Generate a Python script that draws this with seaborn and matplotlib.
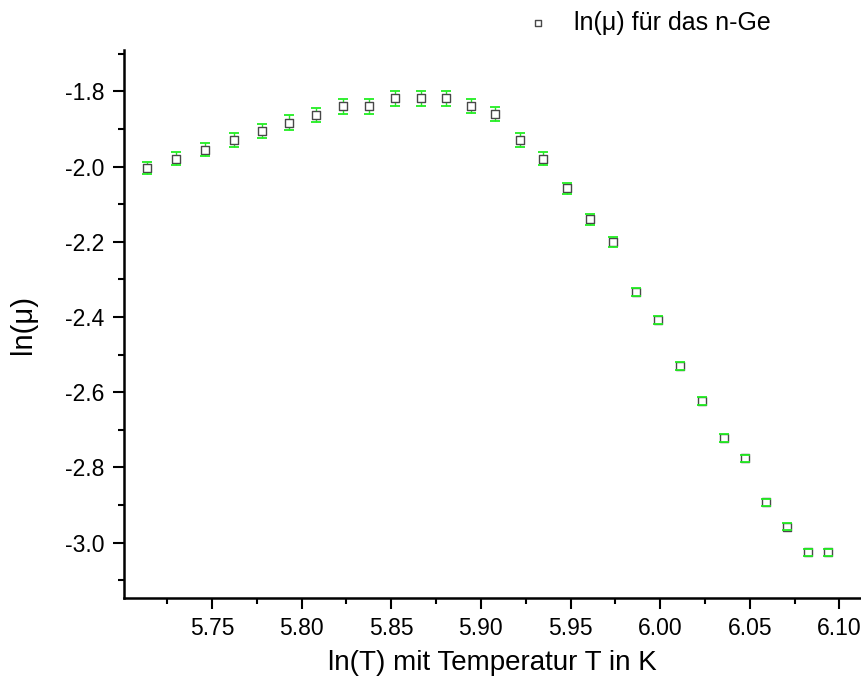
import matplotlib
matplotlib.use("Agg")
import matplotlib.pyplot as plt
import seaborn as sns
import numpy as np
import pandas as pd
from matplotlib.ticker import MultipleLocator

# Data
ln_T = [5.7137, 5.7301, 5.7462, 5.7621, 5.7777, 5.7930, 5.8081, 5.8230,
        5.8377, 5.8522, 5.8665, 5.8805, 5.8944, 5.9081, 5.9216, 5.9349,
        5.9480, 5.9610, 5.9738, 5.9865, 5.9989, 6.0113, 6.0234, 6.0355,
        6.0474, 6.0591, 6.0707, 6.0822, 6.0936]
ln_mu = [-2.004, -1.979, -1.955, -1.930, -1.906, -1.883, -1.862, -1.839,
         -1.839, -1.818, -1.818, -1.818, -1.839, -1.861, -1.930, -1.979,
         -2.058, -2.140, -2.201, -2.334, -2.408, -2.530, -2.623, -2.721,
         -2.776, -2.893, -2.957, -3.026, -3.026]
err = [0.017, 0.017, 0.018, 0.018, 0.019, 0.019, 0.019, 0.020, 0.020,
       0.020, 0.020, 0.020, 0.019, 0.019, 0.019, 0.018, 0.015, 0.014,
       0.014, 0.011, 0.011, 0.011, 0.010, 0.010, 0.010, 0.0085, 0.0085,
       0.0085, 0.0085]
xticks = [5.75, 5.80, 5.85, 5.90, 5.95, 6.00, 6.05, 6.10]
yticks = [-3.0, -2.8, -2.6, -2.4, -2.2, -2.0, -1.8]
legend_label = "ln(μ) für das n-Ge"
xlabel = "ln(T) mit Temperatur T in K"
ylabel = "ln(μ)"

df = pd.DataFrame({"x": ln_T, "y": ln_mu, "err": err})

sns.set_theme(style="ticks")
plt.rcParams["font.family"] = ["Liberation Sans", "DejaVu Sans"]
plt.rcParams["text.color"] = "black"
plt.rcParams["axes.labelcolor"] = "black"

fig = plt.figure(figsize=(8.61, 6.8), dpi=100)
ax = fig.add_axes([124 / 861, (680 - 598) / 680, 1 - 124 / 861, (598 - 50) / 680])

eb = ax.errorbar(df["x"], df["y"], yerr=df["err"], fmt="none", ecolor="#22ee22",
                 elinewidth=1.0, capsize=3.6, capthick=1.3, zorder=2)
for cl in eb[1]:
    cl.set_zorder(4)
sns.scatterplot(data=df, x="x", y="y", ax=ax, marker="s", s=36,
                facecolor="white", edgecolor="#484848", linewidth=1.0,
                zorder=3, label=legend_label)

ax.set_xlim(5.701, 6.112)
ax.set_ylim(-3.147, -1.69)
ax.xaxis.set_minor_locator(MultipleLocator(0.025))
ax.yaxis.set_minor_locator(MultipleLocator(0.1))
ax.set_xticks(xticks)
ax.set_xticklabels([f"{v:.2f}" for v in xticks])
ax.set_yticks(yticks)
ax.set_yticklabels([f"{v:.1f}" for v in yticks])

ax.tick_params(which="major", direction="out", length=8, width=1.5,
               labelsize=16.5, color="black", labelcolor="black", pad=6)
ax.tick_params(axis="x", which="major", pad=6)
ax.tick_params(which="minor", direction="out", length=4.5, width=1.5, color="black")

for side in ["top", "right"]:
    ax.spines[side].set_visible(False)
for side in ["left", "bottom"]:
    ax.spines[side].set_linewidth(1.8)
    ax.spines[side].set_color("black")

ax.set_xlabel(xlabel, fontsize=20, labelpad=7, color="black")
ax.set_ylabel(ylabel, fontsize=21, labelpad=20, color="black")

leg = ax.legend(loc="center left", bbox_to_anchor=(0.528, 1.05), frameon=False,
                fontsize=18, handletextpad=0.45, borderaxespad=0, borderpad=0,
                markerscale=0.8)
for t in leg.get_texts():
    t.set_color("black")

fig.savefig("out.png", dpi=100)
